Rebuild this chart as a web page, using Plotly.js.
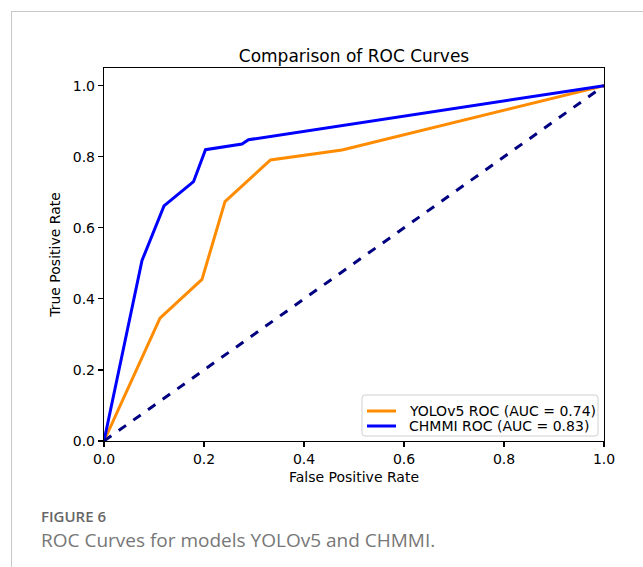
<!DOCTYPE html>
<html>
<head>
<meta charset="utf-8">
<script src="https://cdn.plot.ly/plotly-3.0.1.min.js"></script>
<style>
  html, body { margin:0; padding:0; background:#fff; width:643px; height:567px; overflow:hidden; }
  #chart { position:absolute; left:0; top:0; width:643px; height:567px; }
  #frame { position:absolute; left:11px; top:11px; width:700px; height:700px; border:1px solid #c8c8c8; pointer-events:none; z-index:5; }
  .cap1 { position:absolute; left:41px; top:509px; font-family:"Open Sans", sans-serif; font-size:15px; line-height:15px; font-weight:600; color:#666; z-index:6; }
  .cap2 { position:absolute; left:41px; top:531px; font-family:"Open Sans", sans-serif; font-size:19px; line-height:19px; color:#777; z-index:6; }
</style>
</head>
<body>
<div id="chart"></div>
<div id="frame"></div>
<div class="cap1">FIGURE 6</div>
<div class="cap2">ROC Curves for models YOLOv5 and CHMMI.</div>
<script>
// Data
const yoloFPR = [0, 0.112, 0.196, 0.242, 0.333, 0.476, 1.0];
const yoloTPR = [0, 0.346, 0.455, 0.674, 0.791, 0.819, 1.0];
const chmmiFPR = [0, 0.076, 0.120, 0.179, 0.203, 0.276, 0.289, 1.0];
const chmmiTPR = [0, 0.508, 0.662, 0.730, 0.820, 0.836, 0.848, 1.0];
const chanceX = [0, 1];
const chanceY = [0, 1];
const seriesNames = ["YOLOv5 ROC (AUC = 0.74)", "CHMMI ROC (AUC = 0.83)"];
const seriesColors = ["darkorange", "blue"];
const tickVals = [0, 0.2, 0.4, 0.6, 0.8, 1.0];
const tickText = ["0.0", "0.2", "0.4", "0.6", "0.8", "1.0"];

const traces = [
  { x: yoloFPR, y: yoloTPR, type: "scatter", mode: "lines", name: seriesNames[0],
    line: { color: seriesColors[0], width: 3 } },
  { x: chmmiFPR, y: chmmiTPR, type: "scatter", mode: "lines", name: seriesNames[1],
    line: { color: seriesColors[1], width: 3 } },
  { x: chanceX, y: chanceY, type: "scatter", mode: "lines", showlegend: false,
    line: { color: "navy", width: 3, dash: "dash" } }
];

const axisCommon = {
  showgrid: false, zeroline: false, showline: true, linecolor: "#000", linewidth: 1.2,
  mirror: true, ticks: "outside", ticklen: 5, tickwidth: 1.2, tickcolor: "#000",
  tickfont: { family: "DejaVu Sans", size: 14, color: "#000" },
  tickvals: tickVals, ticktext: tickText
};

// Legend drawn in paper coordinates (plot area: 500 x 373 px)
const PW = 500, PH = 373;
const px = v => v / PW, py = v => v / PH;
const lx0 = px(258), lx1 = px(494), ly0 = py(5), ly1 = py(46);
const rx = px(3), ry = py(3);
const boxPath = `M ${lx0 + rx} ${ly0} L ${lx1 - rx} ${ly0} Q ${lx1} ${ly0} ${lx1} ${ly0 + ry} ` +
  `L ${lx1} ${ly1 - ry} Q ${lx1} ${ly1} ${lx1 - rx} ${ly1} L ${lx0 + rx} ${ly1} ` +
  `Q ${lx0} ${ly1} ${lx0} ${ly1 - ry} L ${lx0} ${ly0 + ry} Q ${lx0} ${ly0} ${lx0 + rx} ${ly0} Z`;
const rowY = [py(30), py(15)];
const shapes = [
  { type: "path", xref: "paper", yref: "paper", path: boxPath,
    fillcolor: "rgba(255,255,255,0.85)", line: { color: "#d0d0d0", width: 1 } }
];
const annotations = [];
seriesNames.forEach((n, i) => {
  shapes.push({ type: "line", xref: "paper", yref: "paper", x0: px(263), x1: px(292), y0: rowY[i], y1: rowY[i],
                line: { color: seriesColors[i], width: 3 } });
  annotations.push({ xref: "paper", yref: "paper", x: px(303), y: rowY[i], xanchor: "left", yanchor: "middle",
                     text: n, showarrow: false, font: { family: "DejaVu Sans", size: 14, color: "#000" } });
});

const layout = {
  width: 643, height: 567,
  margin: { l: 104, r: 39, t: 68, b: 126 },
  paper_bgcolor: "rgba(0,0,0,0)", plot_bgcolor: "#fff",
  font: { family: "DejaVu Sans", size: 14, color: "#000" },
  title: { text: "Comparison of ROC Curves", font: { family: "DejaVu Sans", size: 17, color: "#000" },
           x: 0.5, xref: "paper", xanchor: "center", y: 1, yref: "paper", yanchor: "bottom", pad: { b: 6 } },
  xaxis: Object.assign({}, axisCommon, { range: [0, 1], title: { text: "False Positive Rate", font: { size: 14 }, standoff: 6 } }),
  yaxis: Object.assign({}, axisCommon, { range: [0, 1.05], title: { text: "True Positive Rate", font: { size: 14 }, standoff: 8 } }),
  showlegend: false,
  shapes: shapes,
  annotations: annotations
};

Plotly.newPlot("chart", traces, layout, { staticPlot: true, displayModeBar: false });
</script>
</body>
</html>
